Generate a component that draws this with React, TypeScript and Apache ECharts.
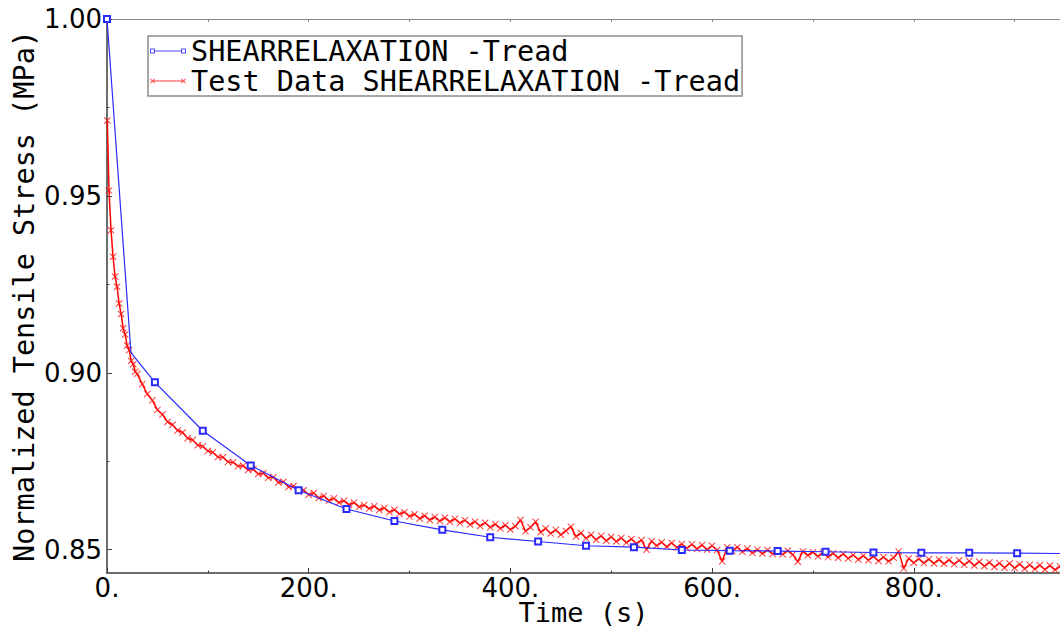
import React, { useEffect, useRef } from 'react';
import * as echarts from 'echarts';

const modelName = 'SHEARRELAXATION -Tread';
const testName = 'Test Data SHEARRELAXATION -Tread';

const modelTime = [0, 23.75, 47.5, 95, 142.5, 190, 237.5, 285, 332.5, 380, 427.5, 475, 522.5, 570, 617.5, 665, 712.5, 760, 807.5, 855, 902.5, 950];
const modelValue = [1.0, 0.9057, 0.8973, 0.8836, 0.8738, 0.8668, 0.8615, 0.8581, 0.8556, 0.8535, 0.8523, 0.8511, 0.8507, 0.8499, 0.8497, 0.8496, 0.8494, 0.8492, 0.8491, 0.8491, 0.849, 0.8489];
const modelHiddenMarker = [23.75];

const testTime = [
  0.3, 2, 4, 6, 8, 10, 12, 14, 16, 18, 20, 22, 24, 26, 28, 30,
  35, 40, 45, 50, 55, 60, 65, 70, 75, 80, 85, 90, 95, 100,
  105, 110, 115, 120, 125, 130, 135, 140, 145, 150, 155, 160, 165, 170, 175, 180, 185, 190, 195, 200,
  205, 210, 215, 220, 225, 230, 235, 240, 245, 250, 255, 260, 265, 270, 275, 280, 285, 290, 295, 300,
  305, 310, 315, 320, 325, 330, 335, 340, 345, 350, 355, 360, 365, 370, 375, 380, 385, 390, 395, 400,
  405, 410, 415, 420, 425, 430, 435, 440, 445, 450, 455, 460, 465, 470, 475, 480, 485, 490, 495, 500,
  505, 510, 515, 520, 525, 530, 535, 540, 545, 550, 555, 560, 565, 570, 575, 580, 585, 590, 595, 600,
  605, 610, 615, 620, 625, 630, 635, 640, 645, 650, 655, 660, 665, 670, 675, 680, 685, 690, 695, 700,
  705, 710, 715, 720, 725, 730, 735, 740, 745, 750, 755, 760, 765, 770, 775, 780, 785, 790, 795, 800,
  805, 810, 815, 820, 825, 830, 835, 840, 845, 850, 855, 860, 865, 870, 875, 880, 885, 890, 895, 900,
  905, 910, 915, 920, 925, 930, 935, 940, 945,
];
const testValue = [
  0.9713, 0.9515, 0.9403, 0.9328, 0.9272, 0.9243, 0.9196, 0.9166, 0.9126, 0.9108, 0.9077, 0.9064, 0.9034, 0.9024, 0.9003, 0.8997,
  0.8968, 0.894, 0.8922, 0.8895, 0.8882, 0.8861, 0.8853, 0.8837, 0.8831, 0.8815, 0.881, 0.8795, 0.8792, 0.8779,
  0.8775, 0.8762, 0.8761, 0.8748, 0.8747, 0.8736, 0.8737, 0.8725, 0.8727, 0.8714, 0.8716, 0.8703, 0.8705, 0.869, 0.8692, 0.8677, 0.868, 0.8665, 0.8668, 0.8655,
  0.866, 0.8646, 0.8652, 0.8639, 0.8645, 0.8633, 0.8638, 0.8627, 0.8633, 0.8621, 0.8626, 0.8616, 0.8623, 0.8612, 0.8618, 0.8606, 0.8613, 0.8601, 0.8606, 0.8594,
  0.86, 0.8588, 0.8596, 0.8584, 0.8592, 0.8581, 0.859, 0.8579, 0.8587, 0.8575, 0.8583, 0.8571, 0.8579, 0.8567, 0.8576, 0.8563, 0.8572, 0.856, 0.8569, 0.8557,
  0.8566, 0.8584, 0.8552, 0.8563, 0.8579, 0.8549, 0.856, 0.8546, 0.8556, 0.8542, 0.8553, 0.8565, 0.8537, 0.8547, 0.8532, 0.8542, 0.8528, 0.8539, 0.8525, 0.8536,
  0.8523, 0.8533, 0.852, 0.853, 0.8517, 0.8527, 0.85, 0.8524, 0.8511, 0.8521, 0.8508, 0.8519, 0.8506, 0.8516, 0.8504, 0.8515, 0.8502, 0.8513, 0.85, 0.8511,
  0.8499, 0.8467, 0.8507, 0.8496, 0.8507, 0.8494, 0.8503, 0.8491, 0.85, 0.8489, 0.8499, 0.8488, 0.8498, 0.8487, 0.8497, 0.8486, 0.8466, 0.8495, 0.8484, 0.8493,
  0.8481, 0.8492, 0.8479, 0.849, 0.8477, 0.8488, 0.8475, 0.8485, 0.8472, 0.8483, 0.847, 0.8481, 0.8468, 0.8479, 0.8467, 0.8477, 0.8495, 0.8447, 0.8475, 0.8463,
  0.8474, 0.8462, 0.8473, 0.8461, 0.8472, 0.846, 0.8471, 0.8459, 0.847, 0.8457, 0.8468, 0.8455, 0.8466, 0.8453, 0.8464, 0.8451, 0.8462, 0.8449, 0.8461, 0.8448,
  0.8459, 0.8446, 0.8457, 0.8445, 0.8456, 0.8444, 0.8455, 0.8443, 0.8453,
];

const xLabelValues = [0, 200, 400, 600, 800];
const xMinorValues = [100, 300, 500, 700, 900];
const xTopValues = [0, 100, 200, 300, 400, 500, 600, 700, 800, 900];
const yLabelValues = [0.85, 0.9, 0.95, 1.0];
const yMinorValues = [0.875, 0.925, 0.975];

const X_MIN = 0;
const X_MAX = 945;
const Y_MIN = 0.8434;
const Y_MAX = 1.0;

const monoFont = 'DejaVu Sans Mono';
const sansFont = 'DejaVu Sans';

const xSymbol = 'path://M0,1 L1,0 L5,4 L9,0 L10,1 L6,5 L10,9 L9,10 L5,6 L1,10 L0,9 L4,5 Z';
const blueIcon =
  'path://M0,1.5H5V6.5H0Z M1,2.5V5.5H4V2.5Z M31,1.5H36V6.5H31Z M32,2.5V5.5H35V2.5Z M5,3.5H31V4.5H5Z';
const redIcon =
  'path://M0,2.1 L0.6,1.5 L2.5,3.4 L4.4,1.5 L5,2.1 L3.1,4 L5,5.9 L4.4,6.5 L2.5,4.6 L0.6,6.5 L0,5.9 L1.9,4 Z ' +
  'M31,2.1 L31.6,1.5 L33.5,3.4 L35.4,1.5 L36,2.1 L34.1,4 L36,5.9 L35.4,6.5 L33.5,4.6 L31.6,6.5 L31,5.9 L32.9,4 Z ' +
  'M2.5,3.4H33.5V4.6H2.5Z';

const blue = '#2a2aff';
const red = '#ff0000';
const axisColor = '#3c3c3c';

export default function App() {
  const ref = useRef<HTMLDivElement>(null);

  useEffect(() => {
    if (!ref.current) return;
    const chart = echarts.init(ref.current, null, { renderer: 'svg' });

    const modelData = modelTime.map((t, i) =>
      modelHiddenMarker.includes(t)
        ? { value: [t, modelValue[i]], symbol: 'none' }
        : { value: [t, modelValue[i]] }
    );
    const testData = testTime.map((t, i) => [t, testValue[i]]);

    const hiddenX = {
      type: 'value',
      min: X_MIN,
      max: X_MAX,
      axisLabel: { show: false },
      splitLine: { show: false },
    };
    const hiddenY = {
      type: 'value',
      min: Y_MIN,
      max: Y_MAX,
      axisLabel: { show: false },
      splitLine: { show: false },
    };

    chart.setOption({
      animation: false,
      backgroundColor: '#ffffff',
      textStyle: { fontFamily: sansFont },
      grid: {
        left: 107,
        right: 0,
        top: 19,
        bottom: 55,
        containLabel: false,
        outerBoundsMode: 'none',
      },
      legend: {
        orient: 'vertical',
        left: 148,
        top: 36,
        padding: [0, 2, 0, 2],
        itemGap: 0,
        itemWidth: 36,
        itemHeight: 8,
        borderColor: '#8c8c8c',
        borderWidth: 1.5,
        backgroundColor: '#ffffff',
        selectedMode: false,
        textStyle: { fontFamily: monoFont, fontSize: 28.5, color: '#000', lineHeight: 30 },
        data: [
          { name: modelName, icon: blueIcon, itemStyle: { color: '#4a4aff', borderWidth: 0 } },
          { name: testName, icon: redIcon, itemStyle: { color: '#ff3a3a', borderWidth: 0 } },
        ],
      },
      xAxis: [
        {
          type: 'value',
          min: X_MIN,
          max: X_MAX,
          position: 'bottom',
          axisLine: { show: true, onZero: false, lineStyle: { color: axisColor, width: 1.5 } },
          axisTick: { show: true, inside: true, length: 5, customValues: xLabelValues, lineStyle: { color: axisColor } },
          axisLabel: {
            customValues: xLabelValues,
            formatter: (v: number) => `${v}.`,
            fontFamily: sansFont,
            fontSize: 26,
            color: '#000',
            margin: 4,
            lineHeight: 22,
          },
          splitLine: { show: false },
          name: 'Time (s)',
          nameLocation: 'middle',
          nameGap: 28,
          nameMoveOverlap: false,
          nameTextStyle: { fontFamily: monoFont, fontSize: 27, color: '#000', verticalAlign: 'top', lineHeight: 23 },
        },
        {
          ...hiddenX,
          position: 'bottom',
          axisLine: { show: false, onZero: false },
          axisTick: { show: true, inside: true, length: 2.5, customValues: xMinorValues, lineStyle: { color: axisColor } },
        },
        {
          ...hiddenX,
          position: 'top',
          axisLine: { show: true, onZero: false, lineStyle: { color: '#8a8a8a', width: 1 } },
          axisTick: { show: true, inside: true, length: 3, customValues: xTopValues, lineStyle: { color: '#8a8a8a' } },
        },
      ],
      yAxis: [
        {
          type: 'value',
          min: Y_MIN,
          max: Y_MAX,
          position: 'left',
          axisLine: { show: true, onZero: false, lineStyle: { color: axisColor, width: 1.5 } },
          axisTick: { show: true, inside: true, length: 5, customValues: yLabelValues, lineStyle: { color: axisColor } },
          axisLabel: {
            customValues: yLabelValues,
            formatter: (v: number) => v.toFixed(2),
            fontFamily: sansFont,
            fontSize: 26,
            color: '#000',
            margin: 5,
          },
          splitLine: { show: false },
          name: 'Normalized Tensile Stress (MPa)',
          nameLocation: 'middle',
          nameGap: 68,
          nameRotate: 90,
          nameMoveOverlap: false,
          nameTextStyle: { fontFamily: monoFont, fontSize: 28.5, color: '#000', lineHeight: 30 },
        },
        {
          ...hiddenY,
          position: 'left',
          axisLine: { show: false, onZero: false },
          axisTick: { show: true, inside: true, length: 2.5, customValues: yMinorValues, lineStyle: { color: axisColor } },
        },
      ],
      series: [
        {
          type: 'line',
          name: testName,
          xAxisIndex: 0,
          yAxisIndex: 0,
          data: testData,
          symbol: xSymbol,
          symbolSize: 7,
          showSymbol: true,
          showAllSymbol: true,
          lineStyle: { color: red, width: 1.5 },
          itemStyle: { color: 'rgba(255,20,20,0.85)' },
          z: 2,
        },
        {
          type: 'line',
          name: modelName,
          xAxisIndex: 0,
          yAxisIndex: 0,
          data: modelData,
          symbol: 'emptyRect',
          symbolSize: 6,
          showSymbol: true,
          showAllSymbol: true,
          lineStyle: { color: blue, width: 1.2 },
          itemStyle: { color: blue, borderWidth: 1.2 },
          z: 3,
        },
      ],
    });

    return () => chart.dispose();
  }, []);

  return (
    <div
      ref={ref}
      style={{ position: 'fixed', left: 0, top: 0, width: 1060, height: 628, background: '#fff' }}
    />
  );
}
